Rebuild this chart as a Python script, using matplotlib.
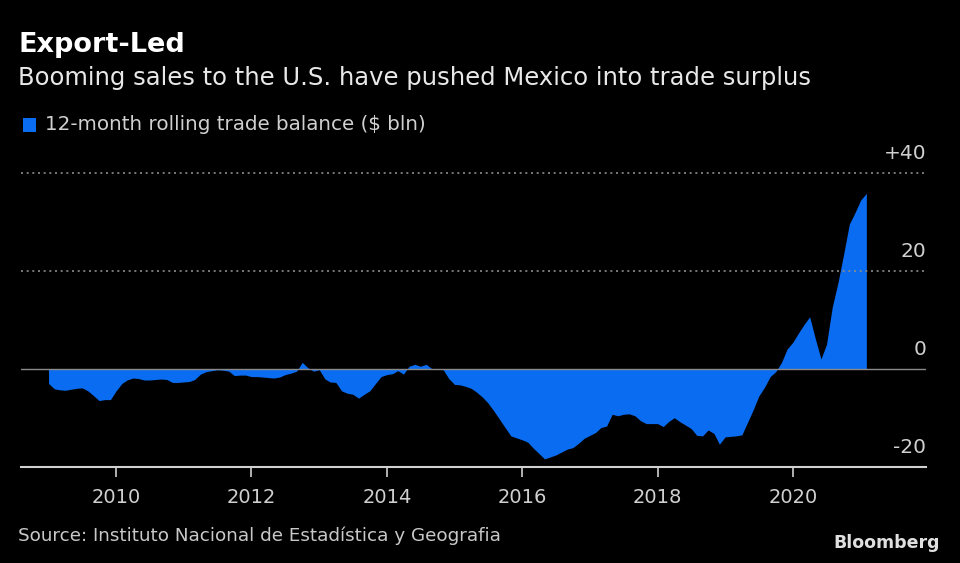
import pandas as pd
import matplotlib.pyplot as plt
import matplotlib.transforms as mtransforms
from matplotlib.patches import Rectangle

# 12-month rolling trade balance, monthly from Jan 2009 ($ bln)
start_month = "2009-01-01"
balance = [
    -3.0, -4.1, -4.3, -4.4, -4.2, -4.0, -3.9, -4.5, -5.5, -6.5, -6.3, -6.3,
    -4.5, -3.0, -2.3, -1.9, -2.0, -2.3, -2.3, -2.2, -2.1, -2.2, -2.8, -2.8,
    -2.7, -2.6, -2.2, -1.1, -0.6, -0.4, -0.2, -0.3, -0.5, -1.4, -1.3, -1.3,
    -1.6, -1.6, -1.7, -1.8, -1.9, -1.7, -1.2, -0.9, -0.5, 1.3, 0.2, -0.5,
    -0.2, -2.1, -2.7, -2.8, -4.5, -5.0, -5.2, -6.0, -5.2, -4.5, -3.0, -1.6,
    -1.2, -1.0, -0.4, -1.1, 0.5, 0.9, 0.5, 0.9, 0.0, -0.1, -0.2, -2.0,
    -3.2, -3.3, -3.6, -4.0, -4.8, -5.8, -7.0, -8.6, -10.3, -12.0, -13.7, -14.1,
    -14.5, -15.0, -16.2, -17.3, -18.4, -18.0, -17.6, -17.0, -16.4, -16.1, -15.2, -14.2,
    -13.6, -13.0, -12.0, -11.7, -9.3, -9.6, -9.3, -9.2, -9.6, -10.6, -11.2, -11.2,
    -11.2, -11.8, -10.8, -10.0, -10.8, -11.5, -12.2, -13.6, -13.7, -12.5, -13.2, -15.4,
    -13.9, -13.8, -13.7, -13.5, -11.0, -8.4, -5.6, -3.8, -1.6, -0.6, 1.3, 4.0,
    5.4, 7.3, 9.0, 10.6, 6.2, 2.0, 5.0, 12.6, 17.6, 23.3, 29.5, 31.8,
    34.4, 35.8,
]
year_ticks = [2010, 2012, 2014, 2016, 2018, 2020]
y_ticks = [-20, 0, 20, 40]
y_labels = ["-20", "0", "20", "+40"]

BLUE = "#0a6cf0"
dates = pd.date_range(start_month, periods=len(balance), freq="MS")

plt.rcParams["font.family"] = ["DejaVu Sans"]
fig = plt.figure(figsize=(9.6, 5.63), dpi=100, facecolor="black")
ax = fig.add_axes([0.0216, 0.171, 0.943, 0.557], facecolor="black")

ax.fill_between(dates, balance, 0, color=BLUE, linewidth=0)
ax.axhline(0, color="#8a8a8a", lw=1.0, zorder=3)
for v in [20, 40]:
    ax.axhline(v, color="#8c8c8c", lw=1.2, ls=(0, (1.2, 2.2)), zorder=1)

ax.set_xlim(pd.Timestamp("2008-08-04"), pd.Timestamp("2021-12-20"))
ax.set_ylim(-20, 44)

for s in ["top", "right", "left"]:
    ax.spines[s].set_visible(False)
ax.spines["bottom"].set_color("#d0d0d0")
ax.spines["bottom"].set_linewidth(1.5)

ax.set_xticks([pd.Timestamp(f"{y}-01-01") for y in year_ticks])
ax.set_xticklabels([str(y) for y in year_ticks])
ax.tick_params(axis="x", colors="#d0d0d0", length=7, width=1.2, pad=8, labelsize=14)
ax.set_yticks([])

offset = mtransforms.offset_copy(ax.get_yaxis_transform(), fig=fig, x=0, y=7, units="points")
for v, lab in zip(y_ticks, y_labels):
    ax.text(1.0, v, lab, transform=offset, ha="right", va="bottom", color="#d0d0d0", fontsize=14.5)

fig.text(0.019, 0.92, "Export-Led", color="white", fontsize=19.5, fontweight="bold", va="center")
fig.text(0.019, 0.861, "Booming sales to the U.S. have pushed Mexico into trade surplus",
         color="#e8e8e8", fontsize=17.5, va="center")
fig.patches.append(Rectangle((0.024, 0.766), 0.0135, 0.0245, transform=fig.transFigure,
                             facecolor=BLUE, edgecolor="none"))
fig.text(0.047, 0.778, "12-month rolling trade balance ($ bln)", color="#d0d0d0", fontsize=14.3, va="center")
fig.text(0.019, 0.049, "Source: Instituto Nacional de Estad\u00edstica y Geografia",
         color="#c8c8c8", fontsize=13.2, va="center")
fig.text(0.979, 0.035, "Bloomberg", color="#e0e0e0", fontsize=12.5, fontweight="bold",
         ha="right", va="center")

fig.savefig("out.png", dpi=100, facecolor="black")
